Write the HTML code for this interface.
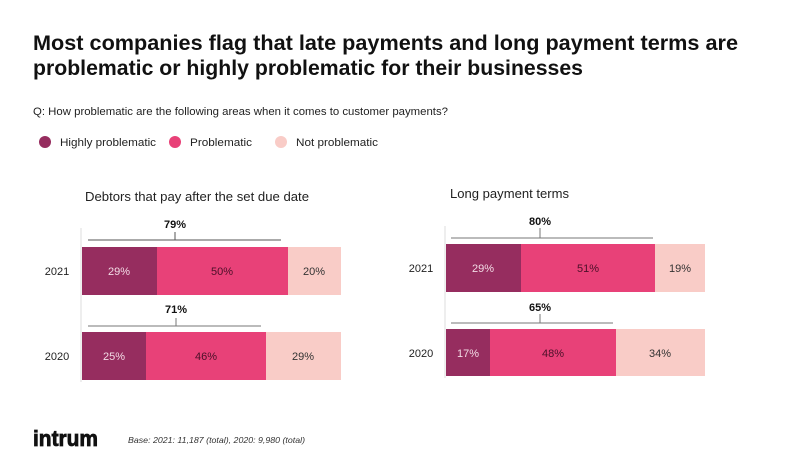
<!DOCTYPE html>
<html><head><meta charset="utf-8"><style>
body{margin:0;background:#fff;}
svg{display:block;font-family:"Liberation Sans",sans-serif;}
</style></head><body>
<svg width="800" height="467" viewBox="0 0 800 467">
<text x="33" y="50" font-size="21" font-weight="bold" fill="#111" textLength="705" lengthAdjust="spacingAndGlyphs">Most companies flag that late payments and long payment terms are</text>
<text x="33" y="75" font-size="21" font-weight="bold" fill="#111" textLength="550" lengthAdjust="spacingAndGlyphs">problematic or highly problematic for their businesses</text>
<text x="33" y="115" font-size="11" fill="#222" textLength="415" lengthAdjust="spacingAndGlyphs">Q: How problematic are the following areas when it comes to customer payments?</text>
<circle cx="45" cy="142" r="6" fill="#962d5f"/><text x="60" y="146" font-size="11" fill="#222" textLength="96" lengthAdjust="spacingAndGlyphs">Highly problematic</text>
<circle cx="175" cy="142" r="6" fill="#e84178"/><text x="190" y="146" font-size="11" fill="#222" textLength="62" lengthAdjust="spacingAndGlyphs">Problematic</text>
<circle cx="281" cy="142" r="6" fill="#f9ccc7"/><text x="296" y="146" font-size="11" fill="#222" textLength="82" lengthAdjust="spacingAndGlyphs">Not problematic</text>

<g font-size="11" text-anchor="middle">
<text x="85" y="201" font-size="13" fill="#222" text-anchor="start" textLength="224" lengthAdjust="spacingAndGlyphs">Debtors that pay after the set due date</text>
<line x1="81" y1="228" x2="81" y2="382" stroke="#ddd"/>
<text x="175" y="228" font-weight="bold" fill="#111">79%</text>
<path d="M88 240H281M175 240V232" stroke="#555" stroke-width="1"/>
<rect x="82" y="247" width="75" height="48" fill="#962d5f"/>
<rect x="157" y="247" width="131" height="48" fill="#e84178"/>
<rect x="288" y="247" width="53" height="48" fill="#f9ccc7"/>
<text x="119" y="275" fill="#f2dbe5">29%</text><text x="222" y="275" fill="#4a1028">50%</text><text x="314" y="275" fill="#333">20%</text>
<text x="57" y="275" fill="#222">2021</text>
<text x="176" y="313" font-weight="bold" fill="#111">71%</text>
<path d="M88 326H261M176 326V318" stroke="#777" stroke-width="1"/>
<rect x="82" y="332" width="64" height="48" fill="#962d5f"/>
<rect x="146" y="332" width="120" height="48" fill="#e84178"/>
<rect x="266" y="332" width="75" height="48" fill="#f9ccc7"/>
<text x="114" y="360" fill="#f2dbe5">25%</text><text x="206" y="360" fill="#4a1028">46%</text><text x="303" y="360" fill="#333">29%</text>
<text x="57" y="360" fill="#222">2020</text>

<text x="450" y="198" font-size="13" fill="#222" text-anchor="start" textLength="119" lengthAdjust="spacingAndGlyphs">Long payment terms</text>
<line x1="445" y1="226" x2="445" y2="378" stroke="#ddd"/>
<text x="540" y="225" font-weight="bold" fill="#111">80%</text>
<path d="M451 238H653M540 238V228" stroke="#777" stroke-width="1"/>
<rect x="446" y="244" width="75" height="48" fill="#962d5f"/>
<rect x="521" y="244" width="134" height="48" fill="#e84178"/>
<rect x="655" y="244" width="50" height="48" fill="#f9ccc7"/>
<text x="483" y="272" fill="#f2dbe5">29%</text><text x="588" y="272" fill="#4a1028">51%</text><text x="680" y="272" fill="#333">19%</text>
<text x="421" y="272" fill="#222">2021</text>
<text x="540" y="311" font-weight="bold" fill="#111">65%</text>
<path d="M451 323H613M540 323V314" stroke="#777" stroke-width="1"/>
<rect x="446" y="329" width="44" height="47" fill="#962d5f"/>
<rect x="490" y="329" width="126" height="47" fill="#e84178"/>
<rect x="616" y="329" width="89" height="47" fill="#f9ccc7"/>
<text x="468" y="357" fill="#f2dbe5">17%</text><text x="553" y="357" fill="#4a1028">48%</text><text x="660" y="357" fill="#333">34%</text>
<text x="421" y="357" fill="#222">2020</text>
</g>

<text x="33" y="446" font-size="22" font-weight="bold" fill="#111" stroke="#111" stroke-width="0.8" textLength="65" lengthAdjust="spacingAndGlyphs">intrum</text>
<text x="128" y="443" font-size="8.5" font-style="italic" fill="#333" textLength="177" lengthAdjust="spacingAndGlyphs">Base:  2021: 11,187 (total), 2020: 9,980 (total)</text>
</svg>
</body></html>
